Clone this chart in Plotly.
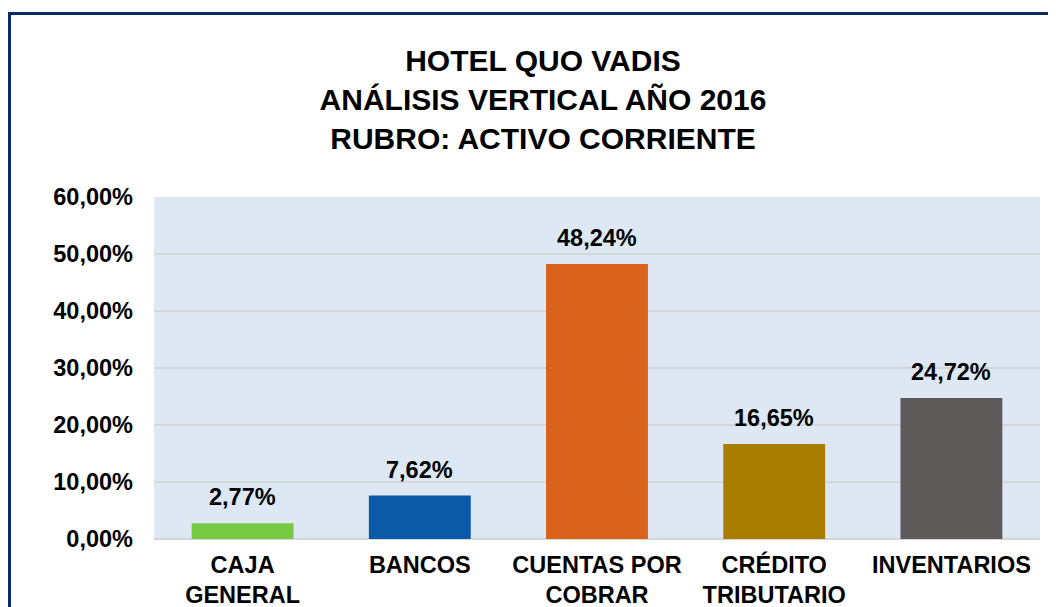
import plotly.graph_objects as go

categories = ["CAJA<br>GENERAL", "BANCOS", "CUENTAS POR<br>COBRAR", "CRÉDITO<br>TRIBUTARIO", "INVENTARIOS"]
values = [0.0277, 0.0762, 0.4824, 0.1665, 0.2472]
bar_colors = ["#78c944", "#0a5aa8", "#d9621c", "#a97d00", "#5e5a59"]
title_lines = ["HOTEL QUO VADIS", "ANÁLISIS VERTICAL AÑO 2016", "RUBRO: ACTIVO CORRIENTE"]
y_ticks = [0, 0.1, 0.2, 0.3, 0.4, 0.5, 0.6]

FONT = "Arial, Liberation Sans, sans-serif"
FS = 23.5
W, H = 1048, 599

fig = go.Figure(go.Bar(
    x=categories,
    y=values,
    marker=dict(color=bar_colors, line=dict(width=0)),
    width=0.575,
    hoverinfo="skip",
))

for c, v in zip(categories, values):
    fig.add_annotation(
        x=c, y=v, xref="x", yref="y",
        text=f"{v*100:.2f}%".replace(".", ","),
        showarrow=False, yanchor="bottom", yshift=11,
        font=dict(family=FONT, size=FS, color="#000000", weight="bold"),
    )

fig.add_shape(
    type="rect", xref="paper", yref="paper",
    x0=-0.1631, x1=1.3, y0=-0.4, y1=1.5365,
    line=dict(color="#0c2a6b", width=3), fillcolor="rgba(0,0,0,0)",
    layer="above",
)

fig.update_layout(
    width=W, height=H,
    margin=dict(l=146, r=16, t=189, b=68, autoexpand=False),
    paper_bgcolor="#ffffff",
    plot_bgcolor="#dde8f4",
    separators=",.",
    showlegend=False,
    title=dict(
        text="<b>" + "<br>".join(title_lines) + "</b>",
        x=0.5105, xanchor="center", xref="container",
        y=0.894, yanchor="top", yref="container",
        font=dict(family=FONT, size=30, color="#000000", weight="bold"),
    ),
    xaxis=dict(
        showgrid=False, zeroline=False, showline=False, automargin=False,
        tickfont=dict(family=FONT, size=FS, color="#000000", weight="bold"),
        ticks="", ticklabelstandoff=9,
    ),
    yaxis=dict(
        range=[0, 0.6], tickvals=y_ticks, tickformat=".2%", automargin=False,
        showgrid=True, gridcolor="#d6d6d6", gridwidth=2,
        zeroline=True, zerolinecolor="#d6d6d6", zerolinewidth=2,
        showline=False, ticks="", ticklabelstandoff=20,
        tickfont=dict(family=FONT, size=FS, color="#000000", weight="bold"),
    ),
    font=dict(family=FONT, weight="bold"),
)

fig.write_html("out.html")
